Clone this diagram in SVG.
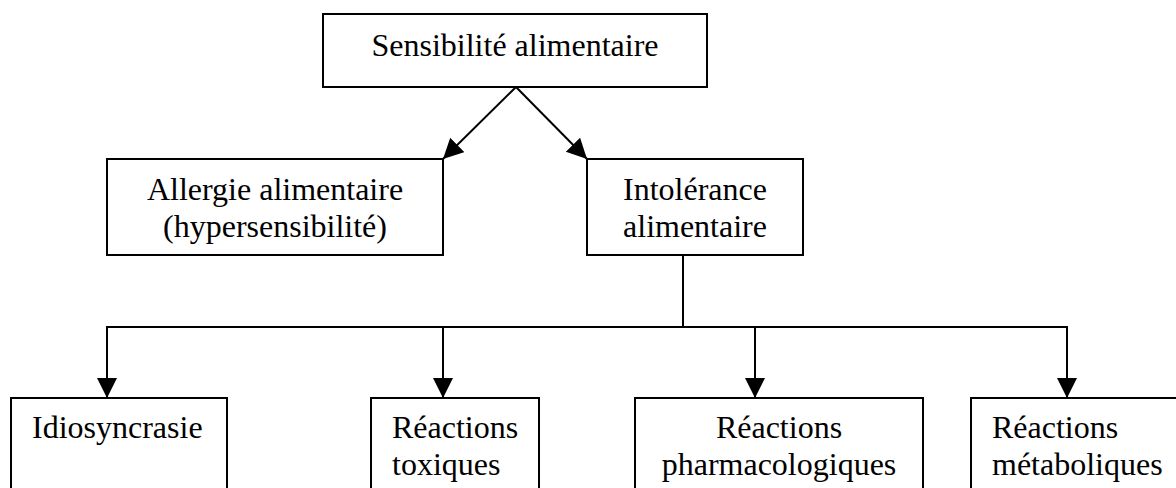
<svg xmlns="http://www.w3.org/2000/svg" width="1176" height="488" viewBox="0 0 1176 488">
  <style>
    .box { fill: #ffffff; stroke: #000000; stroke-width: 2; }
    .lbl { font-family: "Liberation Serif", "Times New Roman", serif; font-size: 32px; fill: #000000; }
    .mid { text-anchor: middle; }
    .conn { fill: none; stroke: #000000; stroke-width: 2; }
  </style>
  <defs>
    <marker id="arrow" markerUnits="userSpaceOnUse" markerWidth="22" markerHeight="22" refX="20" refY="10" orient="auto">
      <path d="M0,0 L20,10 L0,20 z" fill="#000000"/>
    </marker>
  </defs>
  <rect x="0" y="0" width="1176" height="488" fill="#ffffff"/>

  <g id="connectors">
    <line class="conn" x1="516" y1="87" x2="443" y2="159" marker-end="url(#arrow)"/>
    <line class="conn" x1="516" y1="87" x2="587" y2="159" marker-end="url(#arrow)"/>
    <line class="conn" x1="683" y1="255" x2="683" y2="327"/>
    <line class="conn" x1="106" y1="327" x2="1068" y2="327"/>
    <line class="conn" x1="107" y1="327" x2="107" y2="398" marker-end="url(#arrow)"/>
    <line class="conn" x1="443" y1="327" x2="443" y2="398" marker-end="url(#arrow)"/>
    <line class="conn" x1="755" y1="327" x2="755" y2="398" marker-end="url(#arrow)"/>
    <line class="conn" x1="1067" y1="327" x2="1067" y2="398" marker-end="url(#arrow)"/>
  </g>

  <g id="sensibilite">
    <rect class="box" x="323" y="14" width="384" height="73"/>
    <text class="lbl mid" x="515" y="56">Sensibilité alimentaire</text>
  </g>

  <g id="allergie">
    <rect class="box" x="107" y="159" width="336" height="96"/>
    <text class="lbl mid" x="275" y="200">Allergie alimentaire</text>
    <text class="lbl mid" x="275" y="237">(hypersensibilité)</text>
  </g>

  <g id="intolerance">
    <rect class="box" x="587" y="159" width="216" height="96"/>
    <text class="lbl mid" x="695" y="200">Intolérance</text>
    <text class="lbl mid" x="695" y="237">alimentaire</text>
  </g>

  <g id="idiosyncrasie">
    <rect class="box" x="11" y="398" width="216" height="120"/>
    <text class="lbl" x="32" y="438">Idiosyncrasie</text>
  </g>

  <g id="toxiques">
    <rect class="box" x="371" y="398" width="168" height="120"/>
    <text class="lbl" x="392" y="438">Réactions</text>
    <text class="lbl" x="392" y="475">toxiques</text>
  </g>

  <g id="pharmacologiques">
    <rect class="box" x="635" y="398" width="288" height="120"/>
    <text class="lbl mid" x="779" y="438">Réactions</text>
    <text class="lbl mid" x="779" y="475">pharmacologiques</text>
  </g>

  <g id="metaboliques">
    <rect class="box" x="971" y="398" width="240" height="120"/>
    <text class="lbl" x="992" y="438">Réactions</text>
    <text class="lbl" x="992" y="475">métaboliques</text>
  </g>
</svg>
